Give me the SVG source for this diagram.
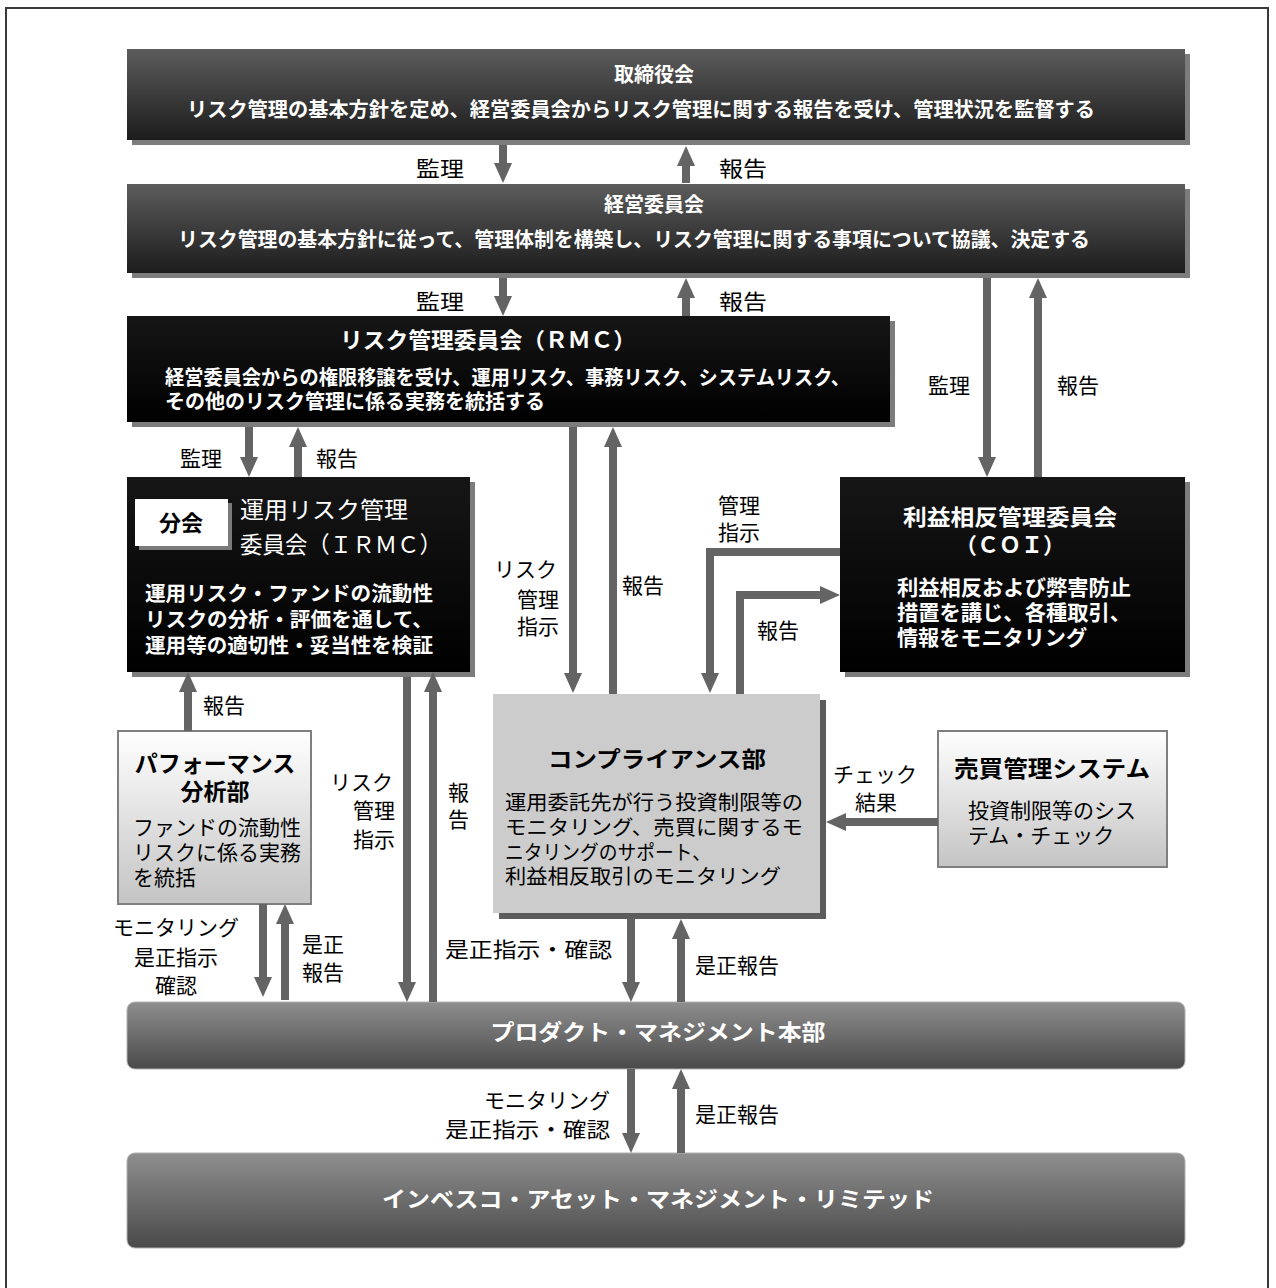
<svg xmlns="http://www.w3.org/2000/svg" width="1276" height="1288" viewBox="0 0 1276 1288">
<defs>
<linearGradient id="gDark" x1="0" y1="0" x2="0" y2="1"><stop offset="0" stop-color="#5c5c5c"/><stop offset="1" stop-color="#1c1c1c"/></linearGradient>
<linearGradient id="gBlack" x1="0" y1="0" x2="0" y2="1"><stop offset="0" stop-color="#161616"/><stop offset="1" stop-color="#000000"/></linearGradient>
<linearGradient id="gLight" x1="0" y1="0" x2="0" y2="1"><stop offset="0" stop-color="#ffffff"/><stop offset="1" stop-color="#c4c4c4"/></linearGradient>
<linearGradient id="gMid" x1="0" y1="0" x2="0" y2="1"><stop offset="0" stop-color="#8e8e8e"/><stop offset="1" stop-color="#4a4a4a"/></linearGradient>
<marker id="ah" markerUnits="userSpaceOnUse" markerWidth="20" markerHeight="18" refX="0" refY="9" orient="auto"><path d="M0,0 L20,9 L0,18 z" fill="#646464"/></marker>
<style>
text{font-family:"Noto Sans CJK JP","Noto Sans CJK SC",sans-serif;}
.w{fill:#ffffff;font-weight:bold;}
.wt{fill:#ffffff;font-weight:bold;font-size:20px;}
.b{fill:#000000;}
.lab{fill:#000000;font-size:21px;}
.c{text-anchor:middle;}
.e{text-anchor:end;}
.ar{stroke:#646464;stroke-width:8;fill:none;marker-end:url(#ah);}
.sh{fill:#7c7c7c;}
</style>
</defs>
<rect x="6" y="8" width="1262" height="1300" fill="none" stroke="#3a3a3a" stroke-width="2"/>

<g id="board">
<rect class="sh" x="132" y="54" width="1058" height="91"/>
<rect x="127" y="49" width="1058" height="91" fill="url(#gDark)"/>
<text class="wt c" x="654" y="82">取締役会</text>
<text class="wt c" x="641" y="117" textLength="908" lengthAdjust="spacingAndGlyphs">リスク管理の基本方針を定め、経営委員会からリスク管理に関する報告を受け、管理状況を監督する</text>
</g>

<g id="mgmt">
<rect class="sh" x="132" y="189" width="1058" height="89"/>
<rect x="127" y="184" width="1058" height="89" fill="url(#gDark)"/>
<text class="wt c" x="654" y="212">経営委員会</text>
<text class="wt c" x="634" y="247" textLength="912" lengthAdjust="spacingAndGlyphs">リスク管理の基本方針に従って、管理体制を構築し、リスク管理に関する事項について協議、決定する</text>
</g>

<g id="rmc">
<rect class="sh" x="132" y="321" width="763" height="106"/>
<rect x="127" y="316" width="763" height="106" fill="url(#gBlack)"/>
<text class="w c" x="488" y="348" font-size="22" textLength="296" lengthAdjust="spacingAndGlyphs">リスク管理委員会（ＲＭＣ）</text>
<text class="w" x="165" y="385" font-size="20" textLength="685" lengthAdjust="spacingAndGlyphs">経営委員会からの権限移譲を受け、運用リスク、事務リスク、システムリスク、</text>
<text class="w" x="165" y="409" font-size="20" textLength="380" lengthAdjust="spacingAndGlyphs">その他のリスク管理に係る実務を統括する</text>
</g>

<g id="irmc">
<rect class="sh" x="132" y="482" width="343" height="195"/>
<rect x="127" y="477" width="343" height="195" fill="url(#gBlack)"/>
<rect x="139" y="503" width="93" height="47" fill="#7a7a7a"/>
<rect x="135" y="499" width="93" height="47" fill="#ffffff"/>
<text class="b c" x="181" y="531" font-size="22" font-weight="bold">分会</text>
<text x="240" y="518" font-size="23" fill="#ffffff" textLength="168" lengthAdjust="spacingAndGlyphs">運用リスク管理</text>
<text x="240" y="553" font-size="23" fill="#ffffff" textLength="202" lengthAdjust="spacingAndGlyphs">委員会（ＩＲＭＣ）</text>
<text class="w" x="145" y="601" font-size="20.5" textLength="288" lengthAdjust="spacingAndGlyphs">運用リスク・ファンドの流動性</text>
<text class="w" x="145" y="627" font-size="20.5" textLength="288" lengthAdjust="spacingAndGlyphs">リスクの分析・評価を通して、</text>
<text class="w" x="145" y="653" font-size="20.5" textLength="288" lengthAdjust="spacingAndGlyphs">運用等の適切性・妥当性を検証</text>
</g>

<g id="coi">
<rect class="sh" x="845" y="482" width="345" height="195"/>
<rect x="840" y="477" width="345" height="195" fill="url(#gBlack)"/>
<text class="w c" x="1010" y="525" font-size="22" textLength="214" lengthAdjust="spacingAndGlyphs">利益相反管理委員会</text>
<text class="w c" x="1010" y="553" font-size="22">（ＣＯＩ）</text>
<text class="w" x="897" y="595" font-size="21" textLength="234" lengthAdjust="spacingAndGlyphs">利益相反および弊害防止</text>
<text class="w" x="897" y="620" font-size="21" textLength="234" lengthAdjust="spacingAndGlyphs">措置を講じ、各種取引、</text>
<text class="w" x="897" y="645" font-size="21" textLength="190" lengthAdjust="spacingAndGlyphs">情報をモニタリング</text>
</g>

<g id="perf">
<rect x="118" y="731" width="193" height="173" fill="url(#gLight)" stroke="#7f7f7f" stroke-width="2"/>
<text class="b c" x="215" y="772" font-size="23" font-weight="bold">パフォーマンス</text>
<text class="b c" x="215" y="800" font-size="23" font-weight="bold">分析部</text>
<text class="b" x="133" y="835" font-size="21">ファンドの流動性</text>
<text class="b" x="133" y="860" font-size="21">リスクに係る実務</text>
<text class="b" x="133" y="885" font-size="21">を統括</text>
</g>

<g id="compliance">
<rect x="499" y="700" width="327" height="219" fill="#5c5c5c"/>
<rect x="493" y="694" width="327" height="219" fill="#cccccc"/>
<text class="b c" x="657" y="767" font-size="22" font-weight="bold" textLength="218" lengthAdjust="spacingAndGlyphs">コンプライアンス部</text>
<text class="b" x="505" y="810" font-size="20.5" textLength="298" lengthAdjust="spacingAndGlyphs">運用委託先が行う投資制限等の</text>
<text class="b" x="505" y="835" font-size="20.5" textLength="298" lengthAdjust="spacingAndGlyphs">モニタリング、売買に関するモ</text>
<text class="b" x="505" y="860" font-size="20.5" textLength="206" lengthAdjust="spacingAndGlyphs">ニタリングのサポート、</text>
<text class="b" x="505" y="884" font-size="20.5" textLength="276" lengthAdjust="spacingAndGlyphs">利益相反取引のモニタリング</text>
</g>

<g id="trade">
<rect x="938" y="731" width="229" height="136" fill="url(#gLight)" stroke="#7f7f7f" stroke-width="2"/>
<text class="b c" x="1052" y="777" font-size="23" font-weight="bold" textLength="196" lengthAdjust="spacingAndGlyphs">売買管理システム</text>
<text class="b" x="968" y="818" font-size="21">投資制限等のシス</text>
<text class="b" x="968" y="843" font-size="21">テム・チェック</text>
</g>

<g id="pm">
<rect x="127" y="1002" width="1058" height="67" rx="8" fill="url(#gMid)" stroke="#b0b0b0" stroke-width="1"/>
<text class="w c" x="658" y="1040" font-size="22" textLength="335" lengthAdjust="spacingAndGlyphs">プロダクト・マネジメント本部</text>
</g>

<g id="invesco">
<rect x="127" y="1153" width="1058" height="95" rx="8" fill="url(#gMid)" stroke="#b0b0b0" stroke-width="1"/>
<text class="w c" x="658" y="1207" font-size="22" textLength="552" lengthAdjust="spacingAndGlyphs">インベスコ・アセット・マネジメント・リミテッド</text>
</g>

<g id="connectors">
<path class="ar" d="M503,145 V163"/>
<path class="ar" d="M686,183 V166"/>
<path class="ar" d="M503,278 V296"/>
<path class="ar" d="M686,316 V298"/>
<path class="ar" d="M249,427 V457"/>
<path class="ar" d="M298,477 V447"/>
<path class="ar" d="M987,278 V457"/>
<path class="ar" d="M1038,477 V298"/>
<path class="ar" d="M573,427 V673"/>
<path class="ar" d="M613,694 V447"/>
<path class="ar" d="M840,552 H710 V673" stroke-linejoin="miter"/>
<path class="ar" d="M740,694 V595 H820" stroke-linejoin="miter"/>
<path class="ar" d="M188,731 V692"/>
<path class="ar" d="M407,677 V982"/>
<path class="ar" d="M433,1002 V692"/>
<path class="ar" d="M263,904 V977"/>
<path class="ar" d="M285,1000 V924"/>
<path class="ar" d="M938,822 H846"/>
<path class="ar" d="M631,919 V982"/>
<path class="ar" d="M681,1002 V939"/>
<path class="ar" d="M631,1069 V1133"/>
<path class="ar" d="M681,1153 V1089"/>

<text class="lab" x="416" y="176" textLength="48" lengthAdjust="spacingAndGlyphs">監理</text>
<text class="lab" x="719" y="176" textLength="48" lengthAdjust="spacingAndGlyphs">報告</text>
<text class="lab" x="416" y="309" textLength="48" lengthAdjust="spacingAndGlyphs">監理</text>
<text class="lab" x="719" y="309" textLength="48" lengthAdjust="spacingAndGlyphs">報告</text>
<text class="lab" x="180" y="466">監理</text>
<text class="lab" x="316" y="466">報告</text>
<text class="lab" x="928" y="393">監理</text>
<text class="lab" x="1057" y="393">報告</text>
<text class="lab" x="494" y="577">リスク</text>
<text class="lab" x="517" y="607">管理</text>
<text class="lab" x="517" y="634">指示</text>
<text class="lab" x="622" y="593">報告</text>
<text class="lab" x="718" y="513">管理</text>
<text class="lab" x="718" y="540">指示</text>
<text class="lab" x="757" y="638">報告</text>
<text class="lab" x="203" y="713">報告</text>
<text class="lab" x="330" y="790">リスク</text>
<text class="lab" x="353" y="818">管理</text>
<text class="lab" x="353" y="847">指示</text>
<text class="lab" x="448" y="800">報</text>
<text class="lab" x="448" y="827">告</text>
<text class="lab c" x="176" y="935">モニタリング</text>
<text class="lab c" x="176" y="965">是正指示</text>
<text class="lab c" x="176" y="993">確認</text>
<text class="lab" x="302" y="952">是正</text>
<text class="lab" x="302" y="980">報告</text>
<text class="lab" x="833" y="782">チェック</text>
<text class="lab" x="855" y="810">結果</text>
<text class="lab" x="445" y="957" textLength="167" lengthAdjust="spacingAndGlyphs">是正指示・確認</text>
<text class="lab" x="695" y="973">是正報告</text>
<text class="lab e" x="610" y="1108">モニタリング</text>
<text class="lab e" x="610" y="1137" textLength="165" lengthAdjust="spacingAndGlyphs">是正指示・確認</text>
<text class="lab" x="695" y="1122">是正報告</text>
</g>
</svg>
